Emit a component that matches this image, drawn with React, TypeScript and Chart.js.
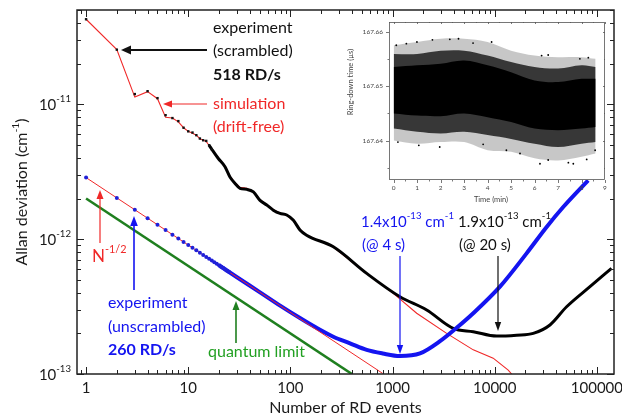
import React, { useEffect, useRef } from 'react';
import { Chart, registerables } from 'chart.js';

Chart.register(...registerables);

const FONT = 'Lato, "Open Sans", sans-serif';

// ---------------- main chart data ----------------
// experiment (scrambled), individual points
const scrambledDotN = [1, 2, 3, 4, 5, 6, 7, 8, 9, 10, 11, 12, 13, 14, 15, 16, 17];
const scrambledDotV = [4.27e-11, 2.54e-11, 1.19e-11, 1.25e-11, 1.11e-11, 8.3e-12, 7.9e-12, 7.5e-12, 6.7e-12, 6.3e-12, 6.17e-12, 5.9e-12, 5.57e-12, 5.41e-12, 5.35e-12, 4.97e-12, 4.64e-12];
// experiment (scrambled), continuous curve
const scrambledLineN = [16, 17, 19.7, 22.9, 25.6, 28.7, 32.1, 37.4, 43.4, 50.4, 58.7, 68, 79, 92, 107, 124, 144, 263, 558, 1180, 2157, 3925, 6160, 10440, 16370, 23800, 34700, 50500, 85500, 139000];
const scrambledLineV = [4.97e-12, 4.64e-12, 3.96e-12, 3.44e-12, 2.89e-12, 2.59e-12, 2.38e-12, 2.34e-12, 2.24e-12, 1.94e-12, 1.79e-12, 1.64e-12, 1.55e-12, 1.51e-12, 1.38e-12, 1.17e-12, 1.07e-12, 8.77e-13, 5.57e-13, 3.74e-13, 2.98e-13, 2.18e-13, 2.06e-13, 1.91e-13, 1.94e-13, 2.0e-13, 2.31e-13, 3.15e-13, 4.44e-13, 6.07e-13];
// simulation (drift-free)
const simulationN = [1, 2, 3, 4, 5, 6, 7, 8, 9, 10, 11, 12, 13, 14, 15, 16, 17, 19.7, 22.9, 25.6, 28.7, 32.1, 37.4, 43.4, 50.4, 58.7, 68, 79, 92, 107, 124, 144, 263, 558, 1010, 1722, 3384, 6160, 9660, 13550, 14630];
const simulationV = [4.27e-11, 2.54e-11, 1.13e-11, 1.24e-11, 1.1e-11, 8.0e-12, 7.9e-12, 7.4e-12, 6.7e-12, 6.3e-12, 6.1e-12, 5.9e-12, 5.55e-12, 5.4e-12, 5.3e-12, 4.95e-12, 4.6e-12, 4.0e-12, 3.45e-12, 2.92e-12, 2.62e-12, 2.42e-12, 2.38e-12, 2.26e-12, 1.96e-12, 1.8e-12, 1.65e-12, 1.56e-12, 1.5e-12, 1.37e-12, 1.18e-12, 1.07e-12, 8.75e-13, 5.55e-13, 3.98e-13, 2.82e-13, 2.0e-13, 1.51e-13, 1.31e-13, 1.07e-13, 1.0e-13];
// experiment (unscrambled), individual points
const unscrambledDotN = [1, 2, 3, 4, 5, 6, 7, 8, 9, 10, 11, 12, 13, 14, 15, 16, 17, 18, 19, 20, 21, 22, 23, 24, 25];
const unscrambledDotV = [2.86e-12, 2.02e-12, 1.65e-12, 1.43e-12, 1.28e-12, 1.17e-12, 1.08e-12, 1.01e-12, 9.53e-13, 9.04e-13, 8.62e-13, 8.26e-13, 7.93e-13, 7.64e-13, 7.38e-13, 7.15e-13, 6.94e-13, 6.74e-13, 6.56e-13, 6.4e-13, 6.24e-13, 6.1e-13, 5.96e-13, 5.84e-13, 5.72e-13];
// experiment (unscrambled), continuous curve
const unscrambledLineN = [20, 30, 50, 80, 124, 180, 263, 383, 558, 800, 1180, 1854, 2911, 4240, 6160, 11250, 20500, 32200, 46800, 82000];
const unscrambledLineV = [6.4e-13, 5.22e-13, 4.05e-13, 3.2e-13, 2.6e-13, 2.2e-13, 1.89e-13, 1.69e-13, 1.51e-13, 1.42e-13, 1.36e-13, 1.42e-13, 1.75e-13, 2.2e-13, 2.82e-13, 4.44e-13, 7.84e-13, 1.23e-12, 1.73e-12, 2.73e-12];
// N^-1/2 guide line
const sqrtLawN = [1, 800];
const sqrtLawV = [2.86e-12, 1.01e-13];
// quantum limit
const quantumN = [1, 400];
const quantumV = [2.0e-12, 1.0e-13];

const xTickLabels = ['1', '10', '100', '1000', '10000', '100000'];
const yTickExponents = ['-11', '-12', '-13'];

// ---------------- inset data ----------------
const insetT = [0, 1, 2, 3, 4, 5, 6, 7, 8, 8.6];
const coreTop = [167.6536, 167.6539, 167.6542, 167.6548, 167.6539, 167.6526, 167.6511, 167.6508, 167.6514, 167.6514];
const coreBottom = [167.645, 167.6446, 167.6445, 167.645, 167.6443, 167.6434, 167.6422, 167.6419, 167.6422, 167.6425];
const midTop = [167.656, 167.656, 167.6566, 167.6566, 167.6557, 167.6545, 167.6536, 167.6533, 167.6539, 167.6536];
const midBottom = [167.6422, 167.6416, 167.6413, 167.6416, 167.641, 167.6403, 167.6394, 167.6388, 167.6394, 167.6397];
const outerTop = [167.6576, 167.6582, 167.6588, 167.6588, 167.6582, 167.6566, 167.6557, 167.6554, 167.6554, 167.6551];
const outerBottom = [167.64, 167.6394, 167.6397, 167.6397, 167.6382, 167.6379, 167.6367, 167.6363, 167.637, 167.6376];
const outlierT = [0.11, 0.54, 0.99, 1.65, 2.39, 2.76, 3.38, 4.17, 6.3, 6.58, 7.93, 8.29, 0.18, 1.07, 1.96, 3.81, 4.8, 5.38, 6.23, 6.58, 7.44, 7.65, 8.22, 8.58];
const outlierV = [167.6576, 167.6579, 167.6582, 167.6586, 167.6587, 167.6588, 167.658, 167.6582, 167.6557, 167.6558, 167.6551, 167.6553, 167.6397, 167.6391, 167.6388, 167.6393, 167.6382, 167.6376, 167.6357, 167.6364, 167.6359, 167.6357, 167.6365, 167.6382];
const insetXTicks = ['0', '1', '2', '3', '4', '5', '6', '7', '8', '9'];
const insetYTicks = ['167.64', '167.65', '167.66'];

type Part = { t: string; sup?: boolean; bold?: boolean };

function drawRich(ctx: CanvasRenderingContext2D, parts: Part[], x: number, y: number, size: number, color: string, align: 'left' | 'center' | 'right' = 'left', bold = false) {
  const supSize = size * 0.64;
  const fontOf = (p: Part) => `${p.bold || bold ? 'bold ' : ''}${p.sup ? supSize : size}px ${FONT}`;
  const widths = parts.map((p) => { ctx.font = fontOf(p); return ctx.measureText(p.t).width; });
  const w = widths.reduce((a, b) => a + b, 0);
  let cx = align === 'center' ? x - w / 2 : align === 'right' ? x - w : x;
  ctx.fillStyle = color;
  ctx.textAlign = 'left';
  ctx.textBaseline = 'middle';
  parts.forEach((p, i) => {
    ctx.font = fontOf(p);
    ctx.fillText(p.t, cx, p.sup ? y - size * 0.42 : y);
    cx += widths[i];
  });
}

function arrow(ctx: CanvasRenderingContext2D, x1: number, y1: number, x2: number, y2: number, color: string, lw: number, head: number, hw: number) {
  const ang = Math.atan2(y2 - y1, x2 - x1);
  const bx = x2 - head * Math.cos(ang);
  const by = y2 - head * Math.sin(ang);
  ctx.strokeStyle = color;
  ctx.lineWidth = lw;
  ctx.beginPath();
  ctx.moveTo(x1, y1);
  ctx.lineTo(bx, by);
  ctx.stroke();
  ctx.fillStyle = color;
  ctx.beginPath();
  ctx.moveTo(x2, y2);
  ctx.lineTo(bx + hw * Math.sin(ang), by - hw * Math.cos(ang));
  ctx.lineTo(bx - hw * Math.sin(ang), by + hw * Math.cos(ang));
  ctx.closePath();
  ctx.fill();
}

function seg(ctx: CanvasRenderingContext2D, x1: number, y1: number, x2: number, y2: number) {
  ctx.beginPath();
  ctx.moveTo(x1, y1);
  ctx.lineTo(x2, y2);
  ctx.stroke();
}

const pts = (n: number[], v: number[]) => n.map((x, i) => ({ x, y: v[i] }));

const BLUE = '#1414f0';
const RED = '#f02828';
const GREEN_LINE = '#1f7f1f';
const GREEN_TEXT = '#22a022';

const mainPlugin = {
  id: 'mainDecor',
  afterDraw(chart: any) {
    const { ctx, chartArea: a, scales } = chart;
    const xs = scales.x;
    const ys = scales.y;
    ctx.save();
    // ticks
    ctx.strokeStyle = '#222';
    ctx.lineWidth = 1;
    for (let e = -1; e <= 6; e++) {
      for (let m = 1; m <= 9; m++) {
        const v = m * Math.pow(10, e);
        if (v < xs.min || v > xs.max) continue;
        const px = Math.round(xs.getPixelForValue(v)) + 0.5;
        const len = m === 1 ? 7 : 4;
        seg(ctx, px, a.bottom, px, a.bottom - len);
        seg(ctx, px, a.top, px, a.top + len);
      }
    }
    for (let e = -14; e <= -10; e++) {
      for (let m = 1; m <= 9; m++) {
        const v = m * Math.pow(10, e);
        if (v < ys.min * 0.999 || v > ys.max * 1.001) continue;
        const py = Math.round(ys.getPixelForValue(v)) + 0.5;
        const len = m === 1 ? 7 : 4;
        seg(ctx, a.left, py, a.left + len, py);
        seg(ctx, a.right, py, a.right - len, py);
      }
    }
    // frame
    ctx.lineWidth = 1.5;
    ctx.strokeRect(a.left, a.top, a.right - a.left, a.bottom - a.top);

    // tick labels
    xTickLabels.forEach((lab) => {
      const px = xs.getPixelForValue(parseFloat(lab));
      drawRich(ctx, [{ t: lab }], px, a.bottom + 14, 15, '#1a1a1a', 'center');
    });
    yTickExponents.forEach((ex) => {
      const py = ys.getPixelForValue(Math.pow(10, parseFloat(ex)));
      drawRich(ctx, [{ t: '10' }, { t: ex, sup: true }], a.left - 6, py + 1, 15, '#1a1a1a', 'right');
    });

    // axis titles
    drawRich(ctx, [{ t: 'Number of RD events' }], (a.left + a.right) / 2, a.bottom + 34, 16, '#1a1a1a', 'center');
    ctx.save();
    ctx.translate(22, (a.top + a.bottom) / 2);
    ctx.rotate(-Math.PI / 2);
    drawRich(ctx, [{ t: 'Allan deviation (cm' }, { t: '-1', sup: true }, { t: ')' }], 0, 0, 16, '#1a1a1a', 'center');
    ctx.restore();

    // annotations
    drawRich(ctx, [{ t: 'experiment' }], 213, 28, 16, '#111');
    drawRich(ctx, [{ t: '(scrambled)' }], 213, 51, 16, '#111');
    drawRich(ctx, [{ t: '518 RD/s', bold: true }], 213, 75, 16, '#111');
    arrow(ctx, 207, 50, 121, 50, '#111', 1.8, 10, 4.5);

    drawRich(ctx, [{ t: 'simulation' }], 213, 104, 16, RED);
    drawRich(ctx, [{ t: '(drift-free)' }], 213, 127, 16, RED);
    arrow(ctx, 207, 104, 163, 104, RED, 1.2, 9, 3.5);

    drawRich(ctx, [{ t: 'N' }, { t: '-1/2', sup: true }], 92, 257, 17, RED);
    arrow(ctx, 100, 243, 100, 190, RED, 1.2, 9, 3.5);

    arrow(ctx, 134, 290, 134, 216, BLUE, 1.6, 10, 3.8);
    drawRich(ctx, [{ t: 'experiment' }], 108, 303, 16, BLUE);
    drawRich(ctx, [{ t: '(unscrambled)' }], 108, 327, 16, BLUE);
    drawRich(ctx, [{ t: '260 RD/s', bold: true }], 108, 350, 16, BLUE);

    arrow(ctx, 236, 343, 236, 301, GREEN_LINE, 1.6, 9, 3.5);
    drawRich(ctx, [{ t: 'quantum limit' }], 208, 352, 16, GREEN_TEXT);

    drawRich(ctx, [{ t: '1.4x10' }, { t: '-13', sup: true }, { t: ' cm' }, { t: '-1', sup: true }], 361, 222, 15, BLUE);
    drawRich(ctx, [{ t: '(@ 4 s)' }], 362, 245, 15, BLUE);
    arrow(ctx, 400, 256, 400, 354, BLUE, 1.2, 9, 3.2);

    drawRich(ctx, [{ t: '1.9x10' }, { t: '-13', sup: true }, { t: ' cm' }, { t: '-1', sup: true }], 458, 222, 15, '#111');
    drawRich(ctx, [{ t: '(@ 20 s)' }], 459, 245, 15, '#111');
    arrow(ctx, 498, 256, 498, 331, '#111', 1.2, 9, 3.2);

    ctx.restore();
  },
};

const insetPlugin = {
  id: 'insetDecor',
  beforeDraw(chart: any) {
    const { ctx, chartArea: a } = chart;
    ctx.save();
    ctx.fillStyle = '#fff';
    ctx.fillRect(a.left, a.top, a.right - a.left, a.bottom - a.top);
    ctx.restore();
  },
  afterDraw(chart: any) {
    const { ctx, chartArea: a, scales } = chart;
    const xs = scales.x;
    const ys = scales.y;
    ctx.save();
    ctx.strokeStyle = '#555';
    ctx.lineWidth = 0.8;
    ctx.strokeRect(a.left + 0.5, a.top + 0.5, a.right - a.left - 1, a.bottom - a.top - 1);
    for (let i = 0; i <= 18; i++) {
      const v = i * 0.5;
      const px = Math.round(xs.getPixelForValue(v)) + 0.5;
      const major = i % 2 === 0;
      seg(ctx, px, a.bottom, px, a.bottom + (major ? 3 : 1.5));
      seg(ctx, px, a.top, px, a.top + (major ? 2 : 1));
    }
    for (let k = 0; k < 6; k++) {
      const v = 167.635 + k * 0.005;
      if (v > ys.max) continue;
      const py = Math.round(ys.getPixelForValue(v)) + 0.5;
      const major = k % 2 === 1;
      seg(ctx, a.left, py, a.left - (major ? 3 : 1.5), py);
      seg(ctx, a.right, py, a.right - (major ? 2 : 1), py);
    }
    ctx.fillStyle = '#444';
    ctx.font = `6.5px ${FONT}`;
    ctx.textBaseline = 'middle';
    ctx.textAlign = 'center';
    insetXTicks.forEach((lab) => {
      ctx.fillText(lab, xs.getPixelForValue(parseFloat(lab)), a.bottom + 8);
    });
    ctx.textAlign = 'right';
    insetYTicks.forEach((lab) => {
      ctx.fillText(lab, a.left - 6, ys.getPixelForValue(parseFloat(lab)));
    });
    ctx.font = `7.5px ${FONT}`;
    ctx.textAlign = 'center';
    ctx.fillText('Time (min)', (a.left + a.right) / 2 - 6, a.bottom + 20);
    ctx.save();
    ctx.translate(a.left - 38, a.top + 60);
    ctx.rotate(-Math.PI / 2);
    ctx.fillText('Ring-down time (\u00b5s)', 0, 0);
    ctx.restore();
    ctx.restore();
  },
};

export default function App() {
  const mainRef = useRef<HTMLCanvasElement>(null);
  const insetRef = useRef<HTMLCanvasElement>(null);

  useEffect(() => {
    const base = { pointRadius: 0, fill: false, spanGaps: true };
    const main = new Chart(mainRef.current as HTMLCanvasElement, {
      type: 'line',
      data: {
        datasets: [
          { ...base, label: 'unscrambled points', data: pts(unscrambledDotN, unscrambledDotV), showLine: false, pointRadius: 2, pointBackgroundColor: '#2020d8', pointBorderWidth: 0, order: 1 },
          { ...base, label: 'N^-1/2', data: pts(sqrtLawN, sqrtLawV), borderColor: RED, borderWidth: 1, order: 2 },
          { ...base, label: 'experiment (unscrambled)', data: pts(unscrambledLineN, unscrambledLineV), borderColor: BLUE, borderWidth: 4, cubicInterpolationMode: 'monotone', order: 3 },
          { ...base, label: 'scrambled points', data: pts(scrambledDotN, scrambledDotV), showLine: false, pointRadius: 1.7, pointStyle: 'rect', pointBackgroundColor: '#111', pointBorderWidth: 0, order: 4 },
          { ...base, label: 'experiment (scrambled)', data: pts(scrambledLineN, scrambledLineV), borderColor: '#000', borderWidth: 3, cubicInterpolationMode: 'monotone', order: 5 },
          { ...base, label: 'simulation (drift-free)', data: pts(simulationN, simulationV), borderColor: RED, borderWidth: 1.1, order: 6 },
          { ...base, label: 'quantum limit', data: pts(quantumN, quantumV), borderColor: GREEN_LINE, borderWidth: 2.6, order: 7 },
        ] as any,
      },
      options: {
        animation: false,
        responsive: false,
        maintainAspectRatio: false,
        devicePixelRatio: 1,
        events: [],
        layout: { padding: { left: 77, right: 8, top: 10, bottom: 45 } },
        plugins: { legend: { display: false }, tooltip: { enabled: false } },
        scales: {
          x: { type: 'logarithmic', min: 0.815, max: 147000, display: false },
          y: { type: 'logarithmic', min: 1e-13, max: 5e-11, display: false },
        },
      } as any,
      plugins: [mainPlugin],
    });

    const band = { pointRadius: 0, borderWidth: 0, tension: 0.35, showLine: true };
    const inset = new Chart(insetRef.current as HTMLCanvasElement, {
      type: 'line',
      data: {
        datasets: [
          { label: 'outliers', data: pts(outlierT, outlierV), showLine: false, pointRadius: 0.9, pointBackgroundColor: '#000', pointBorderWidth: 0, order: 0 },
          { ...band, label: 'core top', data: pts(insetT, coreTop), fill: '+1', backgroundColor: '#000', order: 1 },
          { ...band, label: 'core bottom', data: pts(insetT, coreBottom), fill: false, order: 1 },
          { ...band, label: 'mid top', data: pts(insetT, midTop), fill: '+1', backgroundColor: 'rgba(0,0,0,0.72)', order: 2 },
          { ...band, label: 'mid bottom', data: pts(insetT, midBottom), fill: false, order: 2 },
          { ...band, label: 'outer top', data: pts(insetT, outerTop), fill: '+1', backgroundColor: 'rgba(0,0,0,0.22)', order: 3 },
          { ...band, label: 'outer bottom', data: pts(insetT, outerBottom), fill: false, order: 3 },
        ] as any,
      },
      options: {
        animation: false,
        responsive: false,
        maintainAspectRatio: false,
        devicePixelRatio: 1,
        events: [],
        layout: { padding: { left: 59, right: 10, top: 6, bottom: 31 } },
        plugins: { legend: { display: false }, tooltip: { enabled: false } },
        scales: {
          x: { type: 'linear', min: -0.2, max: 9, display: false },
          y: { type: 'linear', min: 167.6327, max: 167.6619, display: false },
        },
      } as any,
      plugins: [insetPlugin],
    });

    return () => {
      main.destroy();
      inset.destroy();
    };
  }, []);

  return (
    <div style={{ position: 'fixed', left: 0, top: 0, width: 622, height: 419, background: '#fff', overflow: 'hidden' }}>
      <canvas ref={mainRef} width={622} height={419} style={{ position: 'absolute', left: 0, top: 0, width: 622, height: 419 }} />
      <canvas ref={insetRef} width={285} height={195} style={{ position: 'absolute', left: 330, top: 16, width: 285, height: 195 }} />
    </div>
  );
}
